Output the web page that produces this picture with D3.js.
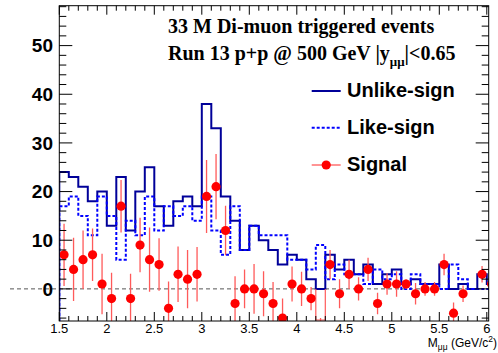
<!DOCTYPE html>
<html>
<head>
<meta charset="utf-8">
<script src="https://cdn.jsdelivr.net/npm/d3@7"></script>
<style>
    body { margin: 0; background: #fff; }
    svg { display: block; }
</style>
</head>
<body>
<div id="chart"></div>
<script>

// bin centres (GeV/c^2), bin width 0.1
const binCenters = [1.55, 1.65, 1.75, 1.85, 1.95, 2.05, 2.15, 2.25, 2.35, 2.45,
    2.55, 2.65, 2.75, 2.85, 2.95, 3.05, 3.15, 3.25, 3.35, 3.45,
    3.55, 3.65, 3.75, 3.85, 3.95, 4.05, 4.15, 4.25, 4.35, 4.45,
    4.55, 4.65, 4.75, 4.85, 4.95, 5.05, 5.15, 5.25, 5.35, 5.45,
    5.55, 5.65, 5.75, 5.85, 5.95, 6.05];

const unlikeSign = [24, 23, 21, 18, 20, 13, 23, 12, 20, 25,
    17, 13, 18, 19, 17, 38, 33, 19, 14, 8,
    13, 10, 8, 5, 7, 6, 2, 0, 7, 4,
    6, 3, 5, 1, 3, 4, 1, 2, 1, 1,
    5, 0, 1, 0, 3, 1];

const likeSign = [17, 19, 15, 11, 19, 15, 6, 14, 11, 19,
    12, 17, 15, 17, 14, 19, 12, 7, 17, 8,
    13, 11, 11, 11, 6, 6, 4, 9, 2, 5,
    3, 3, 1, 4, 2, 3, 0, 3, 1, 1,
    0, 5, 2, 0, 0, 0];

// null = empty bin, nothing drawn
const signal = [7, 4, 6, 7, 1, -2, 17, -2, 9, 6,
    5, -4, 3, 2, 3, 19, 21, 12, -3, 0,
    0, -1, -3, -6, 1, 0, -2, -9, 5, -1,
    3, 0, 4, -3, 1, 1, 1, -1, 0, 0,
    5, -5, -1, null, 3, 1];

const signalErr = [6.4, 6.5, 6.0, 5.4, 6.2, 5.3, 5.4, 5.1, 5.6, 6.6,
    5.4, 5.5, 5.7, 6.0, 5.6, 7.5, 6.7, 5.1, 5.6, 4.0,
    5.1, 4.6, 4.4, 4.0, 3.6, 3.5, 2.4, 3.0, 3.0, 3.0,
    3.0, 2.4, 2.4, 2.2, 2.2, 2.6, 1.0, 2.2, 1.4, 1.4,
    2.2, 2.2, 1.7, 0, 1.7, 1.0];

const xTickLabels = ["1.5", "2", "2.5", "3", "3.5", "4", "4.5", "5", "5.5", "6"];
const yTickLabels = ["0", "10", "20", "30", "40", "50"];

const legendLabels = ["Unlike-sign", "Like-sign", "Signal"];

const binWidth = 0.1;

let width = 498, height = 353;
let frame = {left: 59.3, right: 488.7, top: 5.7, bottom: 321};

let svg = d3.select("#chart").append("svg")
    .attr("width", width)
    .attr("height", height);

svg.append("rect").attr("width", width).attr("height", height).attr("fill", "#fff");

let x = d3.scaleLinear().domain([1.5, 6.02]).range([frame.left, frame.right]);
let y = d3.scaleLinear().domain([-6.6, 58.2]).range([frame.bottom, frame.top]);

svg.append("clipPath").attr("id", "clip")
    .append("rect")
    .attr("x", frame.left).attr("y", frame.top)
    .attr("width", frame.right - frame.left)
    .attr("height", frame.bottom - frame.top);

// zero line, reaches out over the "0" label
svg.append("line")
    .attr("x1", 10).attr("x2", frame.right)
    .attr("y1", y(0)).attr("y2", y(0))
    .attr("stroke", "#555")
    .attr("stroke-width", 1)
    .attr("stroke-dasharray", "4,3");

let plot = svg.append("g").attr("clip-path", "url(#clip)");

// ROOT style step outline, starting from the bottom of the frame
function stepPoints(values) {
    let pts = [[binCenters[0] - binWidth / 2, y.domain()[0]]];
    values.forEach((v, i) => {
        pts.push([binCenters[i] - binWidth / 2, v]);
        pts.push([binCenters[i] + binWidth / 2, v]);
    });
    return pts;
}

let line = d3.line().x(d => x(d[0])).y(d => y(d[1]));

plot.append("path")
    .datum(stepPoints(unlikeSign))
    .attr("fill", "none")
    .attr("stroke", "#000099")
    .attr("stroke-width", 2)
    .attr("d", line);

plot.append("path")
    .datum(stepPoints(likeSign))
    .attr("fill", "none")
    .attr("stroke", "#0000ff")
    .attr("stroke-width", 2)
    .attr("stroke-dasharray", "3,2")
    .attr("d", line);

// signal points with error bars
let sig = binCenters.map((c, i) => ({c: c, v: signal[i], e: signalErr[i]}))
    .filter(d => d.v !== null);

plot.selectAll(".errbar")
    .data(sig)
    .enter().append("line")
    .attr("class", "errbar")
    .attr("x1", d => x(d.c)).attr("x2", d => x(d.c))
    .attr("y1", d => y(d.v - d.e)).attr("y2", d => y(d.v + d.e))
    .attr("stroke", "#ff5a5a")
    .attr("stroke-width", 1.3);

// bin below the frame: drawn as an open box down to the frame edge
sig.filter(d => d.v < y.domain()[0]).forEach(d => {
    plot.append("path")
        .attr("fill", "none")
        .attr("stroke", "#ff5a5a")
        .attr("stroke-width", 1.2)
        .attr("d", `M${x(d.c - binWidth / 2)},${y(0)}V${frame.bottom - 1}H${x(d.c + binWidth / 2)}V${y(0)}`);
});

plot.selectAll(".marker")
    .data(sig)
    .enter().append("circle")
    .attr("class", "marker")
    .attr("cx", d => x(d.c))
    .attr("cy", d => y(d.v))
    .attr("r", 4.6)
    .attr("fill", "#ff0000");

// frame
svg.append("rect")
    .attr("x", frame.left).attr("y", frame.top)
    .attr("width", frame.right - frame.left)
    .attr("height", frame.bottom - frame.top)
    .attr("fill", "none")
    .attr("stroke", "#000")
    .attr("stroke-width", 1);

// ticks (inside, mirrored on all four sides)
let ticks = svg.append("g").attr("stroke", "#000").attr("stroke-width", 1);

let xMinor = d3.range(15, 61).map(d => d / 10);
xMinor.forEach(t => {
    let major = Math.abs(t * 2 - Math.round(t * 2)) < 1e-6;
    let len = major ? 9 : 5;
    ticks.append("line").attr("x1", x(t)).attr("x2", x(t))
        .attr("y1", frame.bottom).attr("y2", frame.bottom - len);
    ticks.append("line").attr("x1", x(t)).attr("x2", x(t))
        .attr("y1", frame.top).attr("y2", frame.top + len);
});

let yMinor = d3.range(-6, 59, 2);
yMinor.forEach(t => {
    let len = (t % 10 === 0) ? 13 : 7;
    ticks.append("line").attr("x1", frame.left).attr("x2", frame.left + len)
        .attr("y1", y(t)).attr("y2", y(t));
    ticks.append("line").attr("x1", frame.right).attr("x2", frame.right - len)
        .attr("y1", y(t)).attr("y2", y(t));
});

// tick labels
svg.append("g").selectAll("text")
    .data(xTickLabels)
    .enter().append("text")
    .attr("x", d => x(+d))
    .attr("y", 333)
    .attr("text-anchor", "middle")
    .style("font-family", "'Liberation Sans', Arial, sans-serif")
    .style("font-size", "13px")
    .text(d => d);

svg.append("g").selectAll("text")
    .data(yTickLabels)
    .enter().append("text")
    .attr("x", 53)
    .attr("y", d => y(+d) + 6.8)
    .attr("text-anchor", "end")
    .style("font-family", "'Liberation Sans', Arial, sans-serif")
    .style("font-size", "19px")
    .style("font-weight", "bold")
    .text(d => d);

// axis title
let xt = svg.append("text")
    .attr("x", 497).attr("y", 347)
    .attr("text-anchor", "end")
    .style("font-family", "'Liberation Sans', Arial, sans-serif")
    .style("font-size", "12px");
xt.append("tspan").text("M");
xt.append("tspan").attr("dy", 3).style("font-size", "8.5px").text("μμ");
xt.append("tspan").attr("dy", -3).text(" (GeV/c");
xt.append("tspan").attr("dy", -5).style("font-size", "8.5px").text("2");
xt.append("tspan").attr("dy", 5).text(")");

// header text
let serif = "'Liberation Serif', 'Times New Roman', serif";
svg.append("text")
    .attr("x", 168).attr("y", 33)
    .style("font-family", serif)
    .style("font-size", "20px")
    .style("font-weight", "bold")
    .text("33 M Di-muon triggered events");

let t2 = svg.append("text")
    .attr("x", 168).attr("y", 60)
    .style("font-family", serif)
    .style("font-size", "20px")
    .style("font-weight", "bold");
t2.append("tspan").text("Run 13 p+p @ 500 GeV |y");
t2.append("tspan").attr("dy", 6).style("font-size", "13px").text("μμ");
t2.append("tspan").attr("dy", -6).text("|<0.65");

// legend
let legY = [91, 127.7, 165];
let leg = svg.append("g");

leg.append("line").attr("x1", 311.7).attr("x2", 340.7)
    .attr("y1", legY[0]).attr("y2", legY[0])
    .attr("stroke", "#000099").attr("stroke-width", 2);
leg.append("line").attr("x1", 311.7).attr("x2", 340.7)
    .attr("y1", legY[1]).attr("y2", legY[1])
    .attr("stroke", "#0000ff").attr("stroke-width", 2)
    .attr("stroke-dasharray", "3,2");
leg.append("line").attr("x1", 311.7).attr("x2", 340.7)
    .attr("y1", legY[2]).attr("y2", legY[2])
    .attr("stroke", "#ff5a5a").attr("stroke-width", 1.3);
leg.append("circle").attr("cx", 326.2).attr("cy", legY[2])
    .attr("r", 4.6).attr("fill", "#ff0000");

leg.selectAll("text")
    .data(legendLabels)
    .enter().append("text")
    .attr("x", 347)
    .attr("y", (d, i) => legY[i] + 6)
    .style("font-family", "'Liberation Sans', Arial, sans-serif")
    .style("font-size", "20px")
    .style("font-weight", "bold")
    .text(d => d);

</script>
</body>
</html>
